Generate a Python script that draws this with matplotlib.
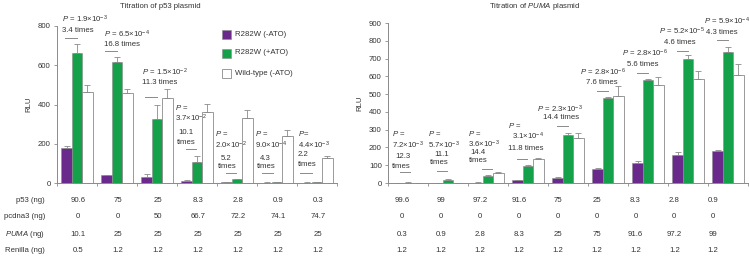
import matplotlib
matplotlib.use("Agg")
import matplotlib.pyplot as plt
import numpy as np
from matplotlib.lines import Line2D
from matplotlib.patches import Rectangle

plt.rcParams['font.family'] = ['Liberation Sans', 'DejaVu Sans']
plt.rcParams['mathtext.fontset'] = 'custom'
plt.rcParams['mathtext.rm'] = 'Liberation Sans'
plt.rcParams['mathtext.it'] = 'Liberation Sans:italic'
plt.rcParams['mathtext.bf'] = 'Liberation Sans:bold'

# ---------------- data ----------------
left_p53 = ["90.6", "75", "25", "8.3", "2.8", "0.9", "0.3"]
left_pcdna3 = ["0", "0", "50", "66.7", "72.2", "74.1", "74.7"]
left_puma = ["10.1", "25", "25", "25", "25", "25", "25"]
left_renilla = ["0.5", "1.2", "1.2", "1.2", "1.2", "1.2", "1.2"]

left_mut_minus = [180, 40, 30, 12, 4, 2, 2]
left_mut_minus_err = [10, 3, 15, 3, 1, 1, 1]
left_mut_plus = [662, 617, 325, 105, 18, 6, 4]
left_mut_plus_err = [45, 25, 72, 35, 2, 1, 1]
left_wt = [462, 458, 435, 360, 330, 240, 128]
left_wt_err = [35, 22, 42, 42, 42, 32, 10]

right_p53 = ["99.6", "99", "97.2", "91.6", "75", "25", "8.3", "2.8", "0.9"]
right_pcdna3 = ["0", "0", "0", "0", "0", "0", "0", "0", "0"]
right_puma = ["0.3", "0.9", "2.8", "8.3", "25", "75", "91.6", "97.2", "99"]
right_renilla = ["1.2", "1.2", "1.2", "1.2", "1.2", "1.2", "1.2", "1.2", "1.2"]

right_mut_minus = [0.5, 1, 2, 15, 30, 79, 112, 157, 180]
right_mut_minus_err = [0.3, 0.5, 1, 2, 3, 6, 10, 17, 4]
right_mut_plus = [2, 18, 40, 96, 270, 478, 579, 697, 737]
right_mut_plus_err = [1, 3, 3, 4, 12, 8, 6, 22, 28]
right_wt = [1, 2, 56, 135, 253, 490, 551, 585, 607]
right_wt_err = [0.5, 0.5, 5, 5, 30, 55, 45, 45, 62]

series_labels = ["R282W (-ATO)", "R282W (+ATO)", "Wild-type (-ATO)"]
row_labels = ["p53 (ng)", "pcdna3 (ng)", r"$\it{PUMA}$ (ng)", "Renilla (ng)"]

# annotations: (text, x_px, y_px)
left_texts = [
    (r"$P$ = 1.9×10$^{-3}$", 62, 19), ("3.4 times", 62, 30),
    (r"$P$ = 6.5×10$^{-4}$", 104, 34), ("16.8 times", 104, 44),
    (r"$P$ = 1.5×10$^{-2}$", 142, 72), ("11.3 times", 142, 82),
    (r"$P$ =", 175, 107), (r"3.7×10$^{-2}$", 175, 118), ("10.1", 178, 133), ("times", 177, 142),
    (r"$P$ =", 215, 134), (r"2.0×10$^{-2}$", 215, 145), ("5.2", 221, 158), ("times", 218, 167),
    (r"$P$ =", 255, 134), (r"9.0×10$^{-4}$", 255, 145), ("4.3", 260, 158), ("times", 257, 167),
    (r"$P$=", 298, 134), (r"4.4×10$^{-3}$", 298, 145), ("2.2", 298, 155), ("times", 298, 164),
]
left_dashes = [(65, 77, 38), (105, 117, 51), (145, 157, 97), (186, 196, 149),
               (226, 236, 173), (262, 273, 173), (300, 312, 173)]

right_texts = [
    (r"$P$ =", 392, 134), (r"7.2×10$^{-3}$", 392, 145), ("12.3", 395, 157), ("times", 392, 166),
    (r"$P$ =", 428, 134), (r"5.7×10$^{-3}$", 428, 145), ("11.1", 434, 155), ("times", 430, 163),
    (r"$P$ =", 468, 133), (r"3.6×10$^{-3}$", 468, 144), ("14.4", 470, 153), ("times", 469, 161),
    (r"$P$ =", 508, 126), (r"3.1×10$^{-4}$", 512, 136), ("11.8 times", 508, 149),
    (r"$P$ = 2.3×10$^{-3}$", 537, 109), ("14.4 times", 543, 118),
    (r"$P$ = 2.8×10$^{-6}$", 580, 72), ("7.6 times", 586, 82),
    (r"$P$ = 2.8×10$^{-6}$", 622, 53), ("5.6 times", 627, 64),
    (r"$P$ = 5.2×10$^{-5}$", 659, 31), ("4.6 times", 664, 42),
    (r"$P$ = 5.9×10$^{-4}$", 704, 21), ("4.3 times", 706, 32),
]
right_dashes = [(400, 410, 172), (437, 447, 171), (482, 492, 169), (517, 527, 159),
                (557, 568, 126), (597, 608, 91), (637, 648, 73), (677, 688, 51), (717, 728, 40)]

# ---------------- style ----------------
W, H = 749, 258
PURPLE = '#6a2a8c'
GREEN = '#15a04a'
GRAY = '#8a8a8a'
TXT = '#333333'
FS = 5.6

fig = plt.figure(figsize=(W / 100, H / 100), dpi=100)


def fx(px):
    return px / W


def fy(py):
    return 1 - py / H


def make_panel(rect, minus, minus_err, plus, plus_err, wt, wt_err, ylim, yticks):
    ax = fig.add_axes(rect)
    n = len(minus)
    x = np.arange(n)
    w = 0.26
    ek = dict(ecolor=GRAY, elinewidth=0.6, capsize=2.2, capthick=0.6)
    ax.bar(x - w, minus, w, color=PURPLE, edgecolor=GRAY, linewidth=0.4,
           yerr=[np.zeros(n), minus_err], error_kw=ek, label=series_labels[0])
    ax.bar(x, plus, w, color=GREEN, edgecolor=GRAY, linewidth=0.4,
           yerr=[np.zeros(n), plus_err], error_kw=ek, label=series_labels[1])
    ax.bar(x + w, wt, w, color='white', edgecolor=GRAY, linewidth=0.6,
           yerr=[np.zeros(n), wt_err], error_kw=ek, label=series_labels[2])
    ax.set_xlim(-0.5, n - 0.5)
    ax.set_ylim(*ylim)
    ax.set_yticks(yticks)
    ax.set_yticklabels([str(v) for v in yticks], fontsize=FS, color=TXT)
    ax.set_xticks(np.arange(n + 1) - 0.5)
    ax.set_xticklabels([])
    ax.tick_params(axis='both', direction='out', length=2.5, width=0.6, color=GRAY, pad=2)
    for s in ['top', 'right']:
        ax.spines[s].set_visible(False)
    for s in ['left', 'bottom']:
        ax.spines[s].set_color(GRAY)
        ax.spines[s].set_linewidth(0.7)
    ax.patch.set_alpha(0)
    return ax


axL = make_panel([fx(57), fy(183), fx(337) - fx(57), fy(26) - fy(183)],
                 left_mut_minus, left_mut_minus_err, left_mut_plus, left_mut_plus_err,
                 left_wt, left_wt_err, (0, 800), [0, 200, 400, 600, 800])
axL.set_ylabel("RLU", fontsize=FS, color=TXT, labelpad=4)

axR = make_panel([fx(388), fy(183), fx(748) - fx(388), fy(23) - fy(183)],
                 right_mut_minus, right_mut_minus_err, right_mut_plus, right_mut_plus_err,
                 right_wt, right_wt_err, (0, 900), list(range(0, 901, 100)))
axR.set_ylabel("RLU", fontsize=FS, color=TXT, labelpad=4)

# titles
fig.text(fx(160), fy(7), "Titration of p53 plasmid", fontsize=FS, color=TXT, ha='center', va='center')
fig.text(fx(535), fy(7), r"Titration of $\it{PUMA}$ plasmid", fontsize=FS, color=TXT, ha='center', va='center')

# legend (manual placement)
leg_styles = [(PURPLE, 0.4), (GREEN, 0.4), ('white', 0.6)]
for (fc, lw), lbl, py in zip(leg_styles, series_labels, [34, 53, 73]):
    fig.add_artist(Rectangle((fx(222), fy(py + 4.5)), fx(9), 9 / H, facecolor=fc,
                             edgecolor=GRAY, linewidth=lw, transform=fig.transFigure))
    fig.text(fx(235), fy(py), lbl, fontsize=FS, color=TXT, ha='left', va='center')

# annotations
for t, px, py in left_texts + right_texts:
    fig.text(fx(px), fy(py), t, fontsize=FS, color=TXT, ha='left', va='center')
for x0, x1, py in left_dashes + right_dashes:
    fig.add_artist(Line2D([fx(x0), fx(x1)], [fy(py), fy(py)], color=GRAY, lw=0.7,
                          transform=fig.transFigure))

# table
rows_y = [200, 217, 234, 251]
for lbl, py in zip(row_labels, rows_y):
    fig.text(fx(45), fy(py), lbl, fontsize=FS, color=TXT, ha='right', va='center')

for vals, py in zip([left_p53, left_pcdna3, left_puma, left_renilla], rows_y):
    for i, v in enumerate(vals):
        fig.text(fx(78 + 40 * i), fy(py), v, fontsize=FS, color=TXT, ha='center', va='center')

for vals, py in zip([right_p53, right_pcdna3, right_puma, right_renilla], rows_y):
    for i, v in enumerate(vals):
        fig.text(fx(402 + 38.9 * i), fy(py), v, fontsize=FS, color=TXT, ha='center', va='center')

fig.savefig("out.png", dpi=100)
